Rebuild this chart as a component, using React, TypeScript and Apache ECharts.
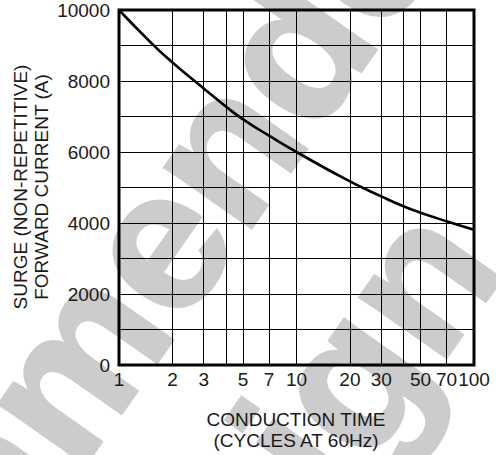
import React, { useEffect, useRef } from "react";
import * as echarts from "echarts";

const cycles = [1, 1.5, 2, 3, 4, 5, 7, 10, 20, 30, 40, 50, 70, 100];
const surgeCurrent = [10000, 9100, 8520, 7790, 7280, 6920, 6460, 6000, 5170, 4750, 4470, 4290, 4050, 3810];
const xTickLabels = [1, 2, 3, 5, 7, 10, 20, 30, 50, 70, 100];
const xGridValues = [2, 3, 4, 5, 7, 10, 20, 30, 40, 50, 70];
const yTitle = "SURGE (NON-REPETITIVE)\nFORWARD CURRENT (A)";
const xTitle = "CONDUCTION TIME\n(CYCLES AT 60Hz)";
const watermarkLines = ["Recommended", "Design"];

export default function App() {
  const ref = useRef<HTMLDivElement>(null);
  useEffect(() => {
    if (!ref.current) return;
    const chart = echarts.init(ref.current, undefined, { renderer: "svg" });
    const font = '"Liberation Sans", Arial, sans-serif';
    const rot = (55 * Math.PI) / 180;
    const wmStyle = {
      font: `bold 200px ${font}`,
      fill: "#cccccc",
      stroke: "#cccccc",
      lineWidth: 3,
      align: "left",
      verticalAlign: "middle",
    };
    chart.setOption({
      animation: false,
      backgroundColor: "#fff",
      grid: {
        left: 119,
        top: 10,
        width: 355,
        height: 355,
        show: true,
        borderColor: "#000",
        borderWidth: 3,
        backgroundColor: "transparent",
      },
      xAxis: {
        type: "log",
        logBase: 10,
        min: 1,
        max: 100,
        axisLine: { show: false },
        axisTick: { show: false },
        splitLine: { show: false },
        minorSplitLine: { show: false },
        axisLabel: {
          customValues: xTickLabels,
          fontSize: 19,
          fontFamily: font,
          color: "#1a1a1a",
          margin: 5,
          formatter: (v: number) => String(Math.round(v)),
        },
      },
      yAxis: {
        type: "value",
        min: 0,
        max: 10000,
        interval: 1000,
        axisLine: { show: false },
        axisTick: { show: false },
        splitLine: { show: true, lineStyle: { color: "#000", width: 1 } },
        axisLabel: {
          fontSize: 19,
          fontFamily: font,
          color: "#1a1a1a",
          margin: 9,
          formatter: (v: number) => (v % 2000 === 0 ? String(v) : ""),
        },
      },
      graphic: [
        {
          type: "group",
          z: -100,
          silent: true,
          children: [
            {
              type: "text",
              x: -362,
              y: 982,
              rotation: rot,
              z: -100,
              style: { ...wmStyle, text: watermarkLines[0] },
            },
            {
              type: "text",
              x: 69,
              y: 775,
              rotation: rot,
              z: -100,
              style: { ...wmStyle, text: watermarkLines[1] },
            },
          ],
        },
        {
          type: "text",
          x: 31,
          y: 187,
          rotation: Math.PI / 2,
          z: 10,
          style: {
            text: yTitle,
            font: `19px ${font}`,
            lineHeight: 20.5,
            fill: "#1a1a1a",
            align: "center",
            verticalAlign: "middle",
          },
        },
        {
          type: "text",
          x: 296,
          y: 429.5,
          z: 10,
          style: {
            text: xTitle,
            font: `19px ${font}`,
            lineHeight: 21,
            fill: "#1a1a1a",
            align: "center",
            verticalAlign: "middle",
          },
        },
      ],
      series: [
        {
          type: "line",
          data: cycles.map((c, i) => [c, surgeCurrent[i]]),
          smooth: 0.5,
          symbol: "none",
          lineStyle: { color: "#000", width: 2.6 },
          z: 5,
          markLine: {
            silent: true,
            symbol: "none",
            label: { show: false },
            lineStyle: { color: "#000", width: 1, type: "solid" },
            data: xGridValues.map((v) => ({ xAxis: v })),
          },
        },
      ],
    });
    return () => chart.dispose();
  }, []);
  return (
    <div
      ref={ref}
      style={{ position: "fixed", left: 0, top: 0, width: 496, height: 455 }}
    />
  );
}
